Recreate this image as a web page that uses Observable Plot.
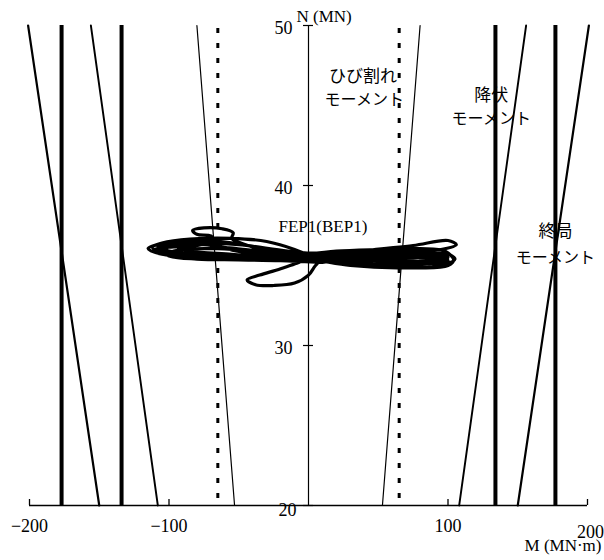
<!DOCTYPE html>
<html><head><meta charset="utf-8">
<script src="https://cdn.jsdelivr.net/npm/d3@7"></script>
<script src="https://cdn.jsdelivr.net/npm/@observablehq/plot@0.6"></script>
<style>html,body{margin:0;padding:0;background:#fff;} #chart svg{display:block;background:#fff}</style>
</head><body><div id="chart"></div>
<script>
// N range of the moment curves
const nEnds = [20, 50];
// moment capacity (MN·m) at N = 20 and N = 50
const crackingM = [53, 80];
const yieldM = [108, 156];
const ultimateM = [150, 201];
// vertical reference lines
const thickM = [134, 177];
const dashedM = [65];
// measured response FEP1(BEP1)
const loopM = [0,20,45,60,45,20,0,-20,-45,-60,-45,-20,0,
 25,55,80,90,75,45,15,-15,-50,-80,-95,-85,-55,-25,0,
 30,65,95,105,100,80,50,20,-10,-40,-70,-100,-115,-105,-80,-50,-25,-5,
 -20,-35,-44,-38,-25,-10,0,5,10,
 40,75,100,106,95,70,40,10,-20,-45,
 -55,-54,-62,-75,-83,-80,-70,-68,-80,-100,-110,-95,-70,-40,-10,20,60,90,100,85,50,20,0,
 30,60,85,100,95,70,40,10,-20,-50,-75,-95,-108,-100,-75,-45,-15,0,
 35,70,92,98,80,50,20,-10,-40,-65,-90,-100,-85,-60,-30,0,
 -10,-30,-55,-85,-105,-112,-100,-80,-50,-20,10,
 20,50,80,100,104,98,80,50,20,0];
const loopN = [35.6,35.4,35.3,35.5,35.7,35.8,35.7,35.8,36.0,36.1,35.8,35.6,35.5,
 35.2,35.1,35.3,35.6,35.8,35.8,35.7,35.9,36.3,36.4,36.2,35.9,35.7,35.5,35.4,
 35.0,34.85,35.0,35.4,35.7,35.8,35.85,35.8,35.8,36.2,36.55,36.45,36.06,35.7,35.55,35.5,35.4,35.3,
 34.8,34.4,34.1,33.8,33.75,33.9,34.4,35.0,35.4,
 35.9,36.25,36.56,36.3,36.0,35.85,35.7,35.6,35.75,36.3,
 36.7,37.05,37.3,37.35,37.2,36.95,36.85,36.55,36.25,36.15,36.0,35.75,35.6,35.55,35.45,35.4,35.35,35.3,35.5,35.6,35.55,35.5,35.55,
 35.2,35.05,35.1,35.3,35.6,35.65,35.6,35.55,35.7,36.0,36.3,36.35,36.2,35.9,35.7,35.65,35.5,35.45,
 35.35,35.2,35.15,35.4,35.5,35.45,35.6,35.6,35.9,36.05,36.0,35.8,35.6,35.45,35.35,35.6,
 36.0,36.5,36.7,36.65,36.4,36.15,35.6,35.4,35.35,35.3,35.2,
 35.3,34.95,34.85,35.0,35.35,35.9,36.05,36.0,35.9,35.7];
// axes
const mTicks = [-200, -100, 100, 200];
const mTickLabels = ["−200", "−100", "100", "200"];
const nTicks = [20, 30, 40, 50];

const curve = (vals, name) => [1, -1].flatMap(s =>
  nEnds.map((n, i) => ({M: s * vals[i], N: n, z: name + s})));
const loop = loopM.map((m, i) => ({M: m, N: loopN[i]}));
const both = vals => vals.flatMap(v => [v, -v]);
const xLab = mTicks.map((m, i) => ({M: m, t: mTickLabels[i]}));

const serif = "Liberation Serif, Times New Roman, serif";
const jp = "Noto Sans CJK JP, sans-serif";

const chart = Plot.plot({
  width: 604, height: 560,
  marginLeft: 29, marginRight: 17, marginTop: 25, marginBottom: 55,
  x: {domain: [-200, 200], axis: null},
  y: {domain: [20, 50], axis: null},
  style: {background: "#fff", color: "#000"},
  marks: [
    Plot.ruleX(both(thickM), {x: d => d, y1: () => 20, y2: () => 50, stroke: "#000", strokeWidth: 4}),
    Plot.ruleX(both(dashedM), {x: d => d, y1: () => 20, y2: () => 50, stroke: "#000", strokeWidth: 3, strokeDasharray: "5,10", strokeDashoffset: -7}),
    Plot.line(curve(ultimateM, "u"), {x: "M", y: "N", z: "z", stroke: "#000", strokeWidth: 2.2}),
    Plot.line(curve(yieldM, "y"), {x: "M", y: "N", z: "z", stroke: "#000", strokeWidth: 1.9}),
    Plot.line(curve(crackingM, "c"), {x: "M", y: "N", z: "z", stroke: "#000", strokeWidth: 1.2}),
    Plot.ruleY([20], {y: d => d, x1: () => -200, x2: () => 200, stroke: "#000", strokeWidth: 1.3}),
    Plot.ruleX([0], {x: d => d, y1: () => 20, y2: () => 50, stroke: "#000", strokeWidth: 1.2}),
    Plot.tickX(mTicks, {x: d => d, insetTop: 474, stroke: "#000", strokeWidth: 1.3}),
    Plot.tickY(nTicks, {y: d => d, insetLeft: 274, insetRight: 274, stroke: "#000", strokeWidth: 1.2}),
    Plot.line(loop, {x: "M", y: "N", curve: "catmull-rom", stroke: "#000", strokeWidth: 3.2, strokeLinejoin: "round"}),
    // x tick labels
    Plot.text(xLab.filter(d => d.M !== 200), {x: "M", frameAnchor: "bottom", dy: 26, text: "t", fontFamily: serif, fontSize: 18, fill: "#000"}),
    Plot.text(xLab.filter(d => d.M === 200), {x: "M", frameAnchor: "bottom", dy: 32, dx: 3, text: "t", fontFamily: serif, fontSize: 18, fill: "#000"}),
    Plot.text(["M (MN·m)"], {x: () => 200, frameAnchor: "bottom", dy: 45, dx: 14, textAnchor: "end", text: d => d, fontFamily: serif, fontSize: 17, fill: "#000"}),
    // y tick labels
    Plot.text(nTicks.filter(n => n !== 20), {x: () => 0, y: d => d, dx: -16, dy: 3, textAnchor: "end", text: d => String(d), fontFamily: serif, fontSize: 18, fill: "#000"}),
    Plot.text([20], {x: () => 0, y: d => d, dx: -12, dy: 5, textAnchor: "end", text: d => String(d), fontFamily: serif, fontSize: 18, fill: "#000"}),
    Plot.text(["N (MN)"], {x: () => 0, y: () => 50, dx: -12, dy: -9, textAnchor: "start", text: d => d, fontFamily: serif, fontSize: 17, fill: "#000"}),
    // annotations
    Plot.text(["FEP1(BEP1)"], {x: () => -21.5, y: () => 37.44, textAnchor: "start", text: d => d, fontFamily: serif, fontSize: 17, fill: "#000"}),
    Plot.text(["ひび割れ"], {x: () => 39, y: () => 46.8, text: d => d, fontFamily: jp, fontSize: 17, fill: "#000"}),
    Plot.text(["モーメント"], {x: () => 40, y: () => 45.35, text: d => d, fontFamily: jp, fontSize: 16, fill: "#000"}),
    Plot.text(["降伏"], {x: () => 131, y: () => 45.6, text: d => d, fontFamily: jp, fontSize: 17, fill: "#000"}),
    Plot.text(["モーメント"], {x: () => 131, y: () => 44.15, text: d => d, fontFamily: jp, fontSize: 16, fill: "#000"}),
    Plot.text(["終局"], {x: () => 177, y: () => 37.15, text: d => d, fontFamily: jp, fontSize: 17, fill: "#000"}),
    Plot.text(["モーメント"], {x: () => 177, y: () => 35.45, text: d => d, fontFamily: jp, fontSize: 16, fill: "#000"})
  ]
});
document.getElementById("chart").appendChild(chart);
</script>
</body></html>
